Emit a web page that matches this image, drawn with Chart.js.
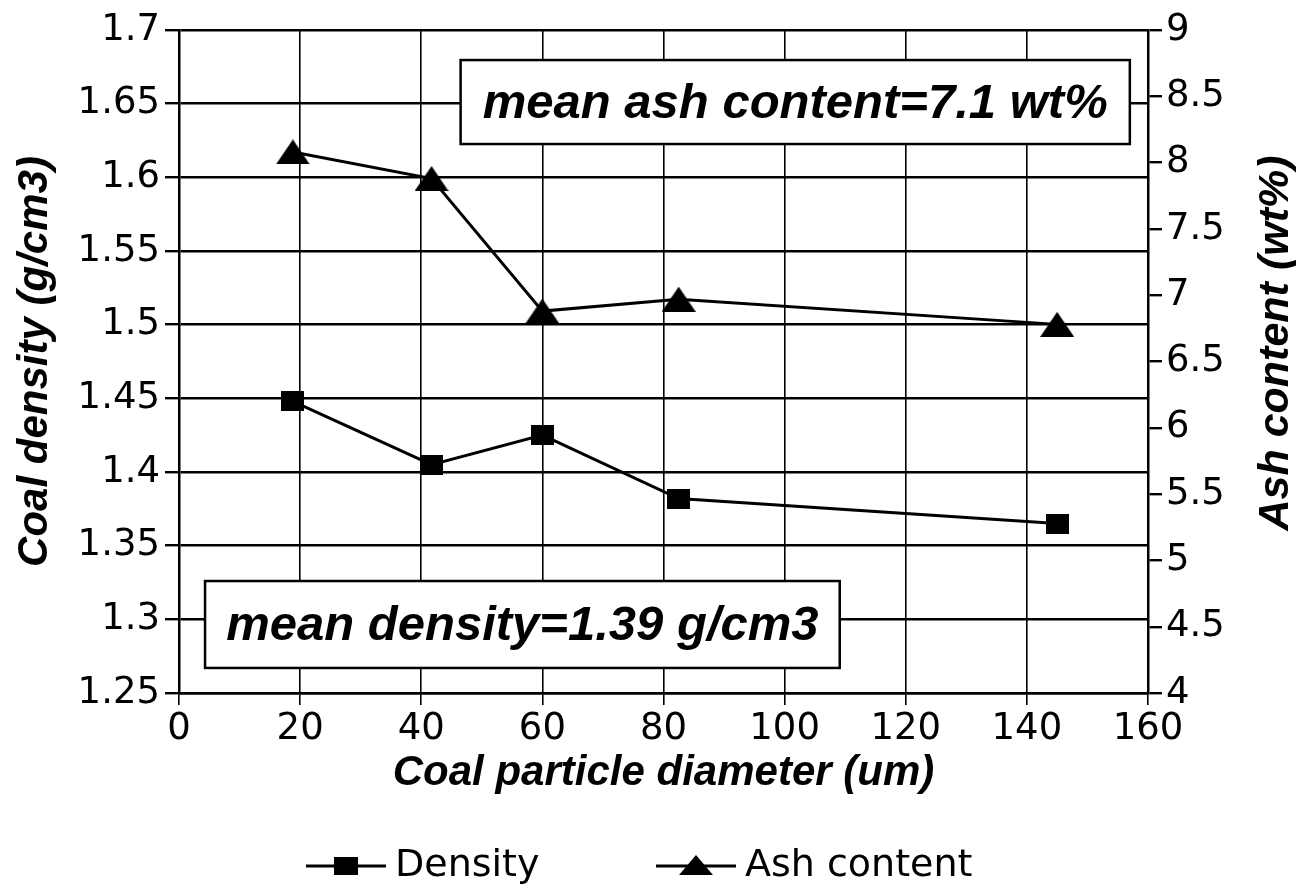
<!DOCTYPE html>
<html>
<head>
<meta charset="utf-8">
<script src="https://cdn.jsdelivr.net/npm/chart.js@4.4.1/dist/chart.umd.min.js"></script>
<style>
html,body{margin:0;padding:0;background:#ffffff;}
#wrap{width:1296px;height:895px;position:relative;}
canvas{display:block;}
</style>
</head>
<body>
<div id="wrap"><canvas id="c" width="1296" height="895"></canvas></div>
<script>
// ---------- data ----------
const diameters = [18.8, 41.7, 60, 82.5, 145];
const densityValues = [1.448, 1.405, 1.425, 1.382, 1.365];
const ashValues = [8.08, 7.88, 6.88, 6.97, 6.78];

const xTickValues = [0, 20, 40, 60, 80, 100, 120, 140, 160];
const xTickLabels = ['0', '20', '40', '60', '80', '100', '120', '140', '160'];
const densityTickValues = [1.25, 1.3, 1.35, 1.4, 1.45, 1.5, 1.55, 1.6, 1.65, 1.7];
const densityTickLabels = ['1.25', '1.3', '1.35', '1.4', '1.45', '1.5', '1.55', '1.6', '1.65', '1.7'];
const ashTickValues = [4, 4.5, 5, 5.5, 6, 6.5, 7, 7.5, 8, 8.5, 9];
const ashTickLabels = ['4', '4.5', '5', '5.5', '6', '6.5', '7', '7.5', '8', '8.5', '9'];

const seriesNames = ['Density', 'Ash content'];
const xTitle = 'Coal particle diameter (um)';
const yTitle = 'Coal density (g/cm3)';
const y1Title = 'Ash content (wt%)';
const noteTexts = ['mean ash content=7.1 wt%', 'mean density=1.39 g/cm3'];

// ---------- layout (not data) ----------
const noteBoxes = [
  {text: noteTexts[0], x0: 46.5, x1: 157, y0: 1.6796, y1: 1.6226},
  {text: noteTexts[1], x0: 4.3, x1: 109.1, y0: 1.326, y1: 1.267}
];
const REG = '"DejaVu Sans", "Liberation Sans", Arial, sans-serif';
const BI = '"Liberation Sans", Arial, sans-serif';
const TICK_FS = 37;
const LEG_FS = 38;
const LEG_W = 80;
const LEG_E = 12;
const CHART_LEFT = 179, CHART_RIGHT = 1148, CHART_TOP = 30, CHART_BOTTOM = 693;
const W = 1296, H = 895;
const TEXT1_X = 395, TEXT2_X = 745;

// legend spacing computation
const mctx = document.createElement('canvas').getContext('2d');
mctx.font = LEG_FS + 'px ' + REG;
const t1 = mctx.measureText(seriesNames[0]).width;
const sp = mctx.measureText(' ').width;
const base = (TEXT2_X - TEXT1_X) - LEG_W - LEG_FS / 2 - t1;
const nSp = Math.max(0, Math.floor((base - 8) / sp));
const legPad = base - nSp * sp;
const legText1 = seriesNames[0] + ' '.repeat(nSp);
const t1p = mctx.measureText(legText1).width;
const t2 = mctx.measureText(seriesNames[1]).width;
const legL = 2 * (LEG_W + LEG_FS / 2) + t1p + t2 + 2 * legPad;
const x0 = TEXT1_X - LEG_W - LEG_FS / 2;
const legRight = 2 * x0 - legPad + legL;
const padR = Math.max(0, W - legRight);
const padB = 0;
const legH = LEG_FS + legPad + 10;
const xAxisH = H - padB - legH - CHART_BOTTOM;

// marker images
function squareImg(w, h) {
  const c = document.createElement('canvas'); c.width = w; c.height = h;
  const g = c.getContext('2d'); g.fillStyle = '#000'; g.fillRect(0, 0, w, h); return c;
}
function triImg(w, h) {
  const c = document.createElement('canvas'); c.width = w; c.height = h;
  const g = c.getContext('2d'); g.fillStyle = '#000';
  g.beginPath(); g.moveTo(w / 2, 0); g.lineTo(w, h); g.lineTo(0, h); g.closePath(); g.fill(); return c;
}
function legendIcon(kind) {
  const iw = LEG_W + 2 * LEG_E, ih = 28;
  const c = document.createElement('canvas'); c.width = iw; c.height = ih;
  const g = c.getContext('2d');
  const end = iw - 2, start = end - 80, mid = (start + end) / 2;
  g.strokeStyle = '#000'; g.lineWidth = 3;
  g.beginPath(); g.moveTo(start, ih / 2); g.lineTo(end, ih / 2); g.stroke();
  g.fillStyle = '#000';
  if (kind === 0) { g.fillRect(mid - 12, ih / 2 - 9, 24, 18); }
  else { g.beginPath(); g.moveTo(mid, ih / 2 - 11); g.lineTo(mid + 17, ih / 2 + 9); g.lineTo(mid - 17, ih / 2 + 9); g.closePath(); g.fill(); }
  return c;
}
const sqMarker = squareImg(23, 20);
const triMarker = triImg(34, 25);
const legIcons = [legendIcon(0), legendIcon(1)];

const notesPlugin = {
  id: 'notes',
  beforeDatasetsDraw(chart) {
    const {ctx} = chart; const sx = chart.scales.x, sy = chart.scales.y;
    noteBoxes.forEach(b => {
      const l = sx.getPixelForValue(b.x0), r = sx.getPixelForValue(b.x1);
      const t = sy.getPixelForValue(b.y0), bt = sy.getPixelForValue(b.y1);
      ctx.save();
      ctx.fillStyle = '#fff'; ctx.fillRect(l, t, r - l, bt - t);
      ctx.lineWidth = 2.5; ctx.strokeStyle = '#000'; ctx.strokeRect(l, t, r - l, bt - t);
      ctx.font = 'italic bold 49px ' + BI; ctx.textAlign = 'center'; ctx.textBaseline = 'middle';
      ctx.fillStyle = '#000'; ctx.fillText(b.text, (l + r) / 2, (t + bt) / 2 + 2);
      ctx.restore();
    });
  },
  afterDraw(chart) {
    const {ctx} = chart;
    ctx.save();
    ctx.translate(1276, 343); ctx.rotate(-Math.PI / 2);
    ctx.font = 'italic bold 43px ' + BI; ctx.textAlign = 'center'; ctx.textBaseline = 'middle'; ctx.fillStyle = '#000';
    ctx.fillText(y1Title, 0, 0);
    ctx.restore();
  }
};

Chart.defaults.font.family = REG;
Chart.defaults.color = '#000';

new Chart(document.getElementById('c'), {
  type: 'line',
  data: {
    datasets: [
      {
        label: seriesNames[0],
        data: diameters.map((d, i) => ({x: d, y: densityValues[i]})),
        yAxisID: 'y', borderColor: '#000', backgroundColor: '#000', borderWidth: 3,
        pointStyle: sqMarker, pointRadius: 12, tension: 0
      },
      {
        label: seriesNames[1],
        data: diameters.map((d, i) => ({x: d, y: ashValues[i]})),
        yAxisID: 'y1', borderColor: '#000', backgroundColor: '#000', borderWidth: 3,
        pointStyle: triMarker, pointRadius: 15, tension: 0
      }
    ]
  },
  options: {
    responsive: false, animation: false, devicePixelRatio: 1,
    layout: {padding: {left: 0, right: padR, top: CHART_TOP, bottom: padB}},
    scales: {
      x: {
        type: 'linear', position: 'bottom', min: 0, max: 160,
        afterBuildTicks: s => { s.ticks = xTickValues.map(v => ({value: v})); },
        afterFit: s => { s.height = xAxisH; },
        ticks: {callback: (v, i) => xTickLabels[i], font: {size: TICK_FS, family: REG}, color: '#000', padding: 2, maxRotation: 0, autoSkip: false},
        grid: {color: '#000', lineWidth: 1.6, tickLength: 12, drawTicks: true},
        border: {color: '#000', width: 2.5},
        title: {display: true, text: xTitle, color: '#000', font: {family: BI, size: 42, weight: 'bold', style: 'italic'},
                padding: {top: 0, bottom: (CHART_BOTTOM + xAxisH) - 774 - 25}}
      },
      y: {
        type: 'linear', position: 'left', min: 1.25, max: 1.7,
        afterBuildTicks: s => { s.ticks = densityTickValues.map(v => ({value: v})); },
        afterFit: s => { s.width = CHART_LEFT; },
        ticks: {callback: (v, i) => densityTickLabels[i], font: {size: TICK_FS, family: REG}, color: '#000', padding: 5, autoSkip: false},
        grid: {color: '#000', lineWidth: 2.4, tickLength: 14, drawTicks: true},
        border: {color: '#000', width: 2.5},
        title: {display: true, text: yTitle, color: '#000', font: {family: BI, size: 42, weight: 'bold', style: 'italic'},
                padding: {top: 10, bottom: 0}}
      },
      y1: {
        type: 'linear', position: 'right', min: 4, max: 9,
        afterBuildTicks: s => { s.ticks = ashTickValues.map(v => ({value: v})); },
        afterFit: s => { s.width = W - padR - CHART_RIGHT; },
        ticks: {callback: (v, i) => ashTickLabels[i], font: {size: TICK_FS, family: REG}, color: '#000', padding: 4, autoSkip: false},
        grid: {drawOnChartArea: false, color: '#000', lineWidth: 2.4, tickLength: 14, drawTicks: true},
        border: {color: '#000', width: 2.5}
      }
    },
    plugins: {
      tooltip: {enabled: false},
      legend: {
        display: true, position: 'bottom', align: 'center',
        labels: {
          usePointStyle: true, pointStyleWidth: LEG_W, padding: legPad, color: '#000',
          font: {size: LEG_FS, family: REG},
          generateLabels: () => [
            {text: legText1, pointStyle: legIcons[0], fillStyle: '#000', strokeStyle: '#000', fontColor: '#000', lineWidth: 0, hidden: false, datasetIndex: 0},
            {text: seriesNames[1], pointStyle: legIcons[1], fillStyle: '#000', strokeStyle: '#000', fontColor: '#000', lineWidth: 0, hidden: false, datasetIndex: 1}
          ]
        }
      }
    }
  },
  plugins: [notesPlugin]
});
</script>
</body>
</html>
